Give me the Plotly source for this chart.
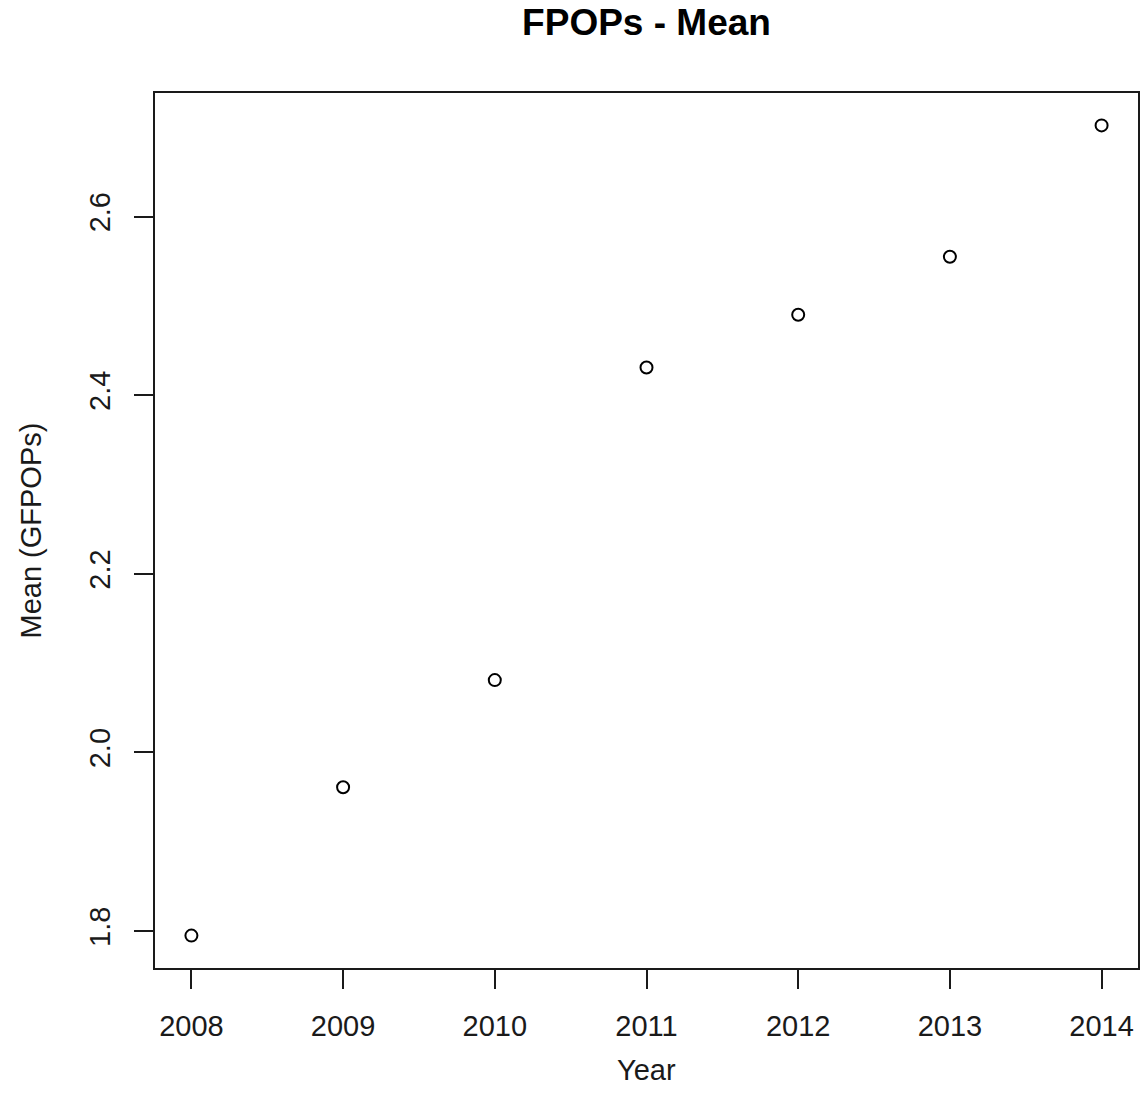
import plotly.graph_objects as go

years = [2008, 2009, 2010, 2011, 2012, 2013, 2014]
mean_gfpops = [1.795, 1.961, 2.081, 2.431, 2.490, 2.555, 2.702]

x_ticks = [2008, 2009, 2010, 2011, 2012, 2013, 2014]
y_ticks = [1.8, 2.0, 2.2, 2.4, 2.6]
y_tick_labels = ["1.8", "2.0", "2.2", "2.4", "2.6"]

FONT = "Liberation Sans, Arial, sans-serif"
INK = "#1a1a1a"

fig = go.Figure()
fig.add_trace(go.Scatter(
    x=years, y=mean_gfpops, mode="markers",
    marker=dict(symbol="circle-open", size=12, color="black",
                line=dict(color="black", width=2)),
    showlegend=False, hoverinfo="x+y",
))

xpad = (max(years) - min(years)) * 0.04
ypad = (max(mean_gfpops) - min(mean_gfpops)) * 0.04

axis_common = dict(
    showline=True, linecolor=INK, linewidth=2, mirror=True,
    ticks="outside", ticklen=19, tickwidth=2, tickcolor=INK,
    showgrid=False, zeroline=False,
    tickfont=dict(family=FONT, size=29, color=INK),
)

fig.update_xaxes(range=[min(years) - xpad, max(years) + xpad],
                 tickvals=x_ticks, ticktext=[str(v) for v in x_ticks],
                 ticklabelstandoff=12, **axis_common)
fig.update_yaxes(range=[min(mean_gfpops) - ypad, max(mean_gfpops) + ypad],
                 tickvals=y_ticks, ticktext=y_tick_labels, tickangle=-90,
                 ticklabelstandoff=12, **axis_common)

fig.update_layout(
    width=1144, height=1113,
    margin=dict(l=155, r=4, t=93, b=145),
    paper_bgcolor="white", plot_bgcolor="white",
    title=dict(text="<b>FPOPs - Mean</b>", x=0.5, xref="paper", xanchor="center",
               y=1 - 22 / 1113, yref="container", yanchor="middle",
               font=dict(family=FONT, size=37, color="black")),
    annotations=[
        dict(text="Year", x=0.5, y=0, xref="paper", yref="paper",
             xanchor="center", yanchor="middle", yshift=-102, showarrow=False,
             font=dict(family=FONT, size=29, color=INK)),
        dict(text="Mean (GFPOPs)", x=0, y=0.5, xref="paper", yref="paper",
             xanchor="center", yanchor="middle", xshift=-125, textangle=-90,
             showarrow=False, font=dict(family=FONT, size=29, color=INK)),
    ],
)

fig.write_html("out.html",
               config={"displayModeBar": False},
               post_script="document.body.style.margin='0';document.body.style.overflow='hidden';")
